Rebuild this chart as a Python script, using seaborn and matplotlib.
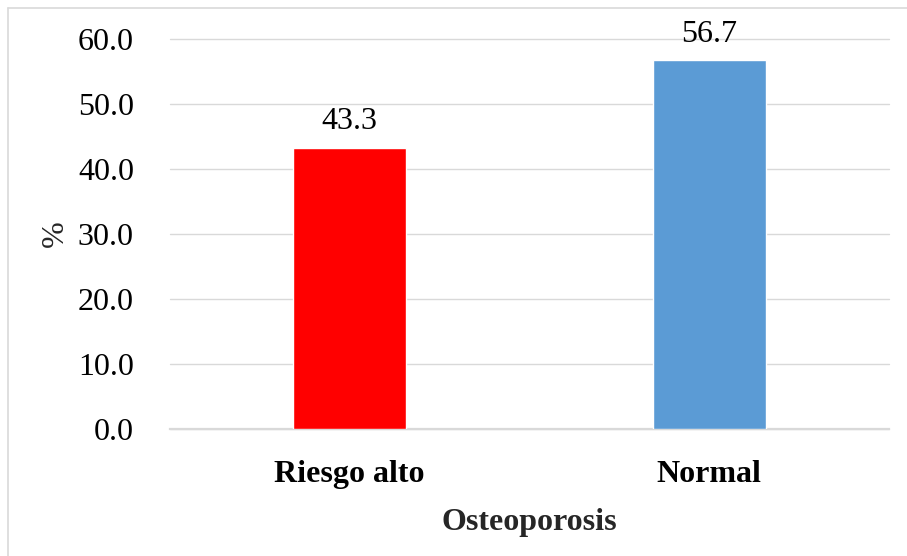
import matplotlib
matplotlib.use("Agg")
import matplotlib.pyplot as plt
from matplotlib.lines import Line2D
import seaborn as sns
import pandas as pd

categories = ["Riesgo alto", "Normal"]
percentages = [43.3, 56.7]
bar_colors = ["#FF0000", "#5B9BD5"]
y_ticks = [0, 10, 20, 30, 40, 50, 60]

sns.set_theme(style="white")
plt.rcParams["font.family"] = ["Liberation Serif", "DejaVu Serif"]

df = pd.DataFrame({"cat": categories, "pct": percentages})

fig = plt.figure(figsize=(9.07, 5.56), dpi=100)
ax = fig.add_axes([170 / 907, 1 - 429 / 556, (889 - 170) / 907, (429 - 39) / 556])

sns.barplot(data=df, x="cat", y="pct", hue="cat", palette=bar_colors,
            width=0.314, legend=False, ax=ax, zorder=3, saturation=1)

ax.set_xlim(-0.5, 1.5)
ax.set_ylim(0, 60)
ax.set_yticks(y_ticks)
ax.set_yticklabels([f"{v:.1f}" for v in y_ticks], fontsize=23, color="#000000")
ax.set_xticks(range(len(categories)))
ax.set_xticklabels(categories, fontsize=23, fontweight="bold", color="#000000")
ax.tick_params(axis="y", length=0, pad=26)
ax.tick_params(axis="x", length=0, pad=22)

ax.grid(axis="y", color="#D9D9D9", linewidth=1.0, zorder=0)
ax.set_axisbelow(True)
for side in ["top", "right", "left"]:
    ax.spines[side].set_visible(False)
ax.spines["bottom"].set_color("#D9D9D9")
ax.spines["bottom"].set_linewidth(1.6)
ax.spines["bottom"].set_zorder(2)
for gl in ax.get_ygridlines():
    gl.set_clip_on(False)

ax.set_xlabel("Osteoporosis", fontsize=23, fontweight="bold", labelpad=14)
ax.set_ylabel("%", fontsize=23, labelpad=6)

for i, v in enumerate(percentages):
    ax.annotate(f"{v:.1f}", xy=(i, v), xytext=(0, 8), textcoords="offset points",
                ha="center", va="bottom", fontsize=23, color="#000000",
                annotation_clip=False)

# light frame along the top and left edges
fig.add_artist(Line2D([7.5 / 907, 1.0], [1 - 8 / 556, 1 - 8 / 556],
                      transform=fig.transFigure, color="#D9D9D9", lw=1.2))
fig.add_artist(Line2D([7.5 / 907, 7.5 / 907], [0.0, 1 - 8 / 556],
                      transform=fig.transFigure, color="#D9D9D9", lw=1.2))

fig.savefig("out.png", dpi=100, facecolor="white")
